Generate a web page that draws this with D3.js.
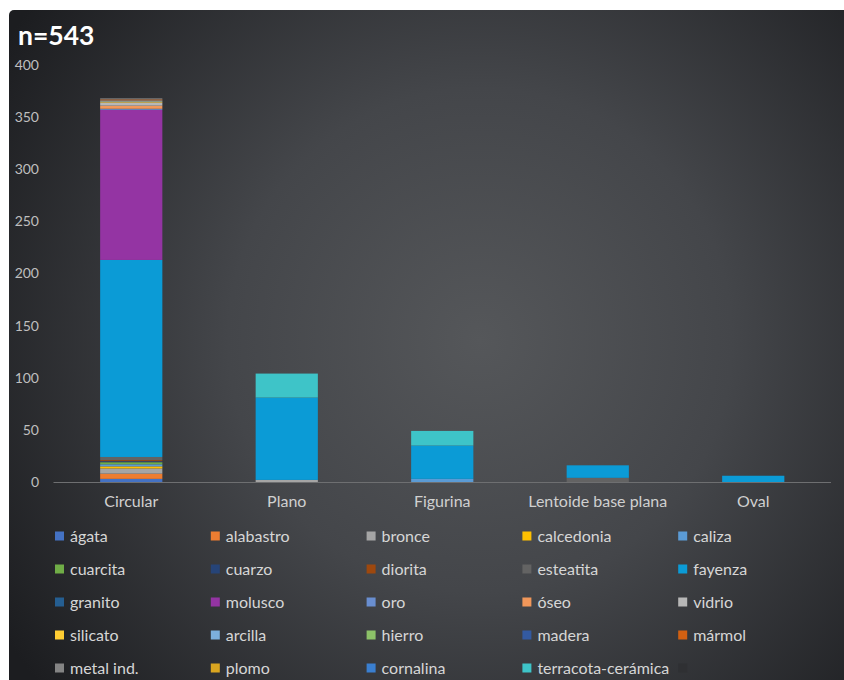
<!DOCTYPE html>
<html><head><meta charset="utf-8">
<script src="https://cdn.jsdelivr.net/npm/d3@7"></script>
<style>html,body{margin:0;padding:0;background:#fff;}svg{display:block;}</style>
</head><body>
<script>
const categories = ["Circular","Plano","Figurina","Lentoide base plana","Oval"];
const materials = ["ágata","alabastro","bronce","calcedonia","caliza","cuarcita","cuarzo","diorita","esteatita","fayenza","granito","molusco","oro","óseo","vidrio","silicato","arcilla","hierro","madera","mármol","metal ind.","plomo","cornalina","terracota-cerámica",""];
const colors = ["#4472c4","#ed7d31","#a5a5a5","#ffc000","#5b9bd5","#70ad47","#264478","#9e480e","#636363","#0b9bd6","#255e91","#9434a3","#698ed0","#f1975a","#b7b7b7","#ffcd33","#7cafdd","#8cc168","#335aa1","#d26012","#848484","#d9a520","#3a7fd0","#3ec4c8","#2f3033"];
// values per category, in materials order
const circular = [3,5,5,2,2,2,1,1,3,189,0,144,1,3,3,1,1,0,0,1,1,0,0,0,0];
const plano    = [0,0,2,0,0,0,0,0,0,79,0,0,0,0,0,0,0,0,0,0,0,0,0,23,0];
const figurina = [0,0,0,0,3,0,0,0,0,32,0,0,0,0,0,0,0,0,0,0,0,0,0,14,0];
const lentoide = [0,0,0,0,0,0,0,0,4,12,0,0,0,0,0,0,0,0,0,0,0,0,0,0,0];
const oval     = [0,0,0,0,0,0,0,0,0,6,0,0,0,0,0,0,0,0,0,0,0,0,0,0,0];
const yTicks = [0,50,100,150,200,250,300,350,400];
const title = "n=543";

const byCat = [circular, plano, figurina, lentoide, oval];
const rows = categories.map((c,i)=>{const o={cat:c}; materials.forEach((m,j)=>o["s"+j]=byCat[i][j]); return o;});
const keys = materials.map((m,j)=>"s"+j);

const W=844,H=680;
const svg=d3.select("body").append("svg").attr("width",W).attr("height",H);
const defs=svg.append("defs");
const rg=defs.append("radialGradient").attr("id","bg").attr("gradientUnits","userSpaceOnUse")
  .attr("cx",480).attr("cy",340).attr("r",560);
rg.append("stop").attr("offset","0%").attr("stop-color","#55575a");
rg.append("stop").attr("offset","45%").attr("stop-color","#44464a");
rg.append("stop").attr("offset","100%").attr("stop-color","#1c1d20");
svg.append("rect").attr("x",9).attr("y",10).attr("width",W+20).attr("height",H+20).attr("rx",5).attr("fill","url(#bg)");

const x=d3.scaleBand().domain(categories).range([53.5,831]).paddingInner(0.6).paddingOuter(0.3);
const y=d3.scaleLinear().domain([0,400]).range([482,65]);

const font="Lato, 'Open Sans', sans-serif";
// y axis labels
const ya=svg.append("g").attr("transform","translate(39,0)").call(d3.axisLeft(y).tickValues(yTicks).tickSize(0).tickPadding(0));
ya.select(".domain").remove();
ya.selectAll("text").attr("fill","#bfbfbf").style("font-family",font).style("font-size","14px");

// baseline
svg.append("line").attr("x1",53.5).attr("x2",831).attr("y1",y(0)+0.5).attr("y2",y(0)+0.5).attr("stroke","#6e6f71").attr("stroke-width",1);

const stack=d3.stack().keys(keys)(rows);
svg.append("g").selectAll("g").data(stack).join("g").attr("fill",(d,i)=>colors[i])
  .selectAll("rect").data(d=>d).join("rect")
  .attr("x",d=>x(d.data.cat)).attr("width",x.bandwidth())
  .attr("y",d=>y(d[1])).attr("height",d=>y(d[0])-y(d[1]));

// x labels
const xa=svg.append("g").attr("transform","translate(0,"+(y(0)+14)+")").call(d3.axisBottom(x).tickSize(0).tickPadding(0));
xa.select(".domain").remove();
xa.selectAll("text").attr("fill","#d0d0d0").style("font-family",font).style("font-size","16px");

// title
svg.append("text").attr("x",18).attr("y",45).text(title).attr("fill","#ffffff")
  .style("font-family",font).style("font-weight","bold").style("font-size","26.5px");

// legend
const lg=svg.append("g");
materials.forEach((m,i)=>{
  const col=i%5,row=Math.floor(i/5);
  const gx=55+col*155.8, gy=536+row*33;
  lg.append("rect").attr("x",gx).attr("y",gy-4.5).attr("width",9).attr("height",9).attr("fill",colors[i]);
  lg.append("text").attr("x",gx+15).attr("y",gy).attr("dy","0.36em").text(m).attr("fill","#d6d6d6")
    .style("font-family",font).style("font-size","16px");
});
</script>
</body></html>
